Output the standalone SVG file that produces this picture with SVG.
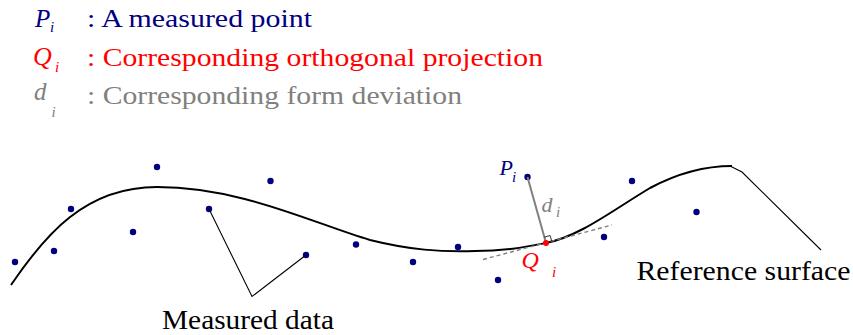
<svg xmlns="http://www.w3.org/2000/svg" width="853" height="335" viewBox="0 0 853 335" font-family="'Liberation Serif', 'Times New Roman', Times, serif">
<style>
text{font-family:'Liberation Serif','Times New Roman',Times,serif}
.sym{font-style:italic}
.blue{fill:#000080}
.red{fill:#ff0000}
.gray{fill:#808080}
.blk{fill:#000}
.dot{fill:#000080}
.curve{fill:none;stroke:#000;stroke-width:2}
.lead{fill:none;stroke:#000;stroke-width:1.1}
</style>
<rect width="853" height="335" fill="#fff"/>
<g id="legend">
  <g id="legend-p">
    <text class="sym blue" x="35" y="27" font-size="25">P</text>
    <text class="sym blue" x="50" y="32" font-size="15">i</text>
    <text class="blue" x="87" y="27" font-size="25.5" textLength="225" lengthAdjust="spacingAndGlyphs">: A measured point</text>
  </g>
  <g id="legend-q">
    <text class="sym red" x="33" y="65" font-size="26">Q</text>
    <text class="sym red" x="55" y="72" font-size="15">i</text>
    <text class="red" x="87" y="66" font-size="25.5" textLength="456" lengthAdjust="spacingAndGlyphs">: Corresponding orthogonal projection</text>
  </g>
  <g id="legend-d">
    <text class="sym gray" x="34" y="100" font-size="25">d</text>
    <text class="sym gray" x="51.5" y="117" font-size="15">i</text>
    <text class="gray" x="87" y="104" font-size="25.5" textLength="375" lengthAdjust="spacingAndGlyphs">: Corresponding form deviation</text>
  </g>
</g>
<g id="reference-surface">
  <path class="curve" d="M11,285 C45,235 85,187 157,187 C240,187 310,222 370,240 C410,250 440,252 475,251 C505,251 525,247 546,243 C580,236 610,212 650,188 C680,172 705,166 732,166"/>
</g>
<g id="measured-data">
  <circle class="dot" cx="15" cy="262" r="3.2"/>
  <circle class="dot" cx="54" cy="251" r="3.2"/>
  <circle class="dot" cx="71" cy="209" r="3.2"/>
  <circle class="dot" cx="133" cy="232" r="3.2"/>
  <circle class="dot" cx="157" cy="167" r="3.2"/>
  <circle class="dot" cx="209" cy="209" r="3.2"/>
  <circle class="dot" cx="270.5" cy="181" r="3.2"/>
  <circle class="dot" cx="306" cy="255" r="3.2"/>
  <circle class="dot" cx="356" cy="244.5" r="3.2"/>
  <circle class="dot" cx="413" cy="262" r="3.2"/>
  <circle class="dot" cx="458" cy="247" r="3.2"/>
  <circle class="dot" cx="498" cy="280" r="3.2"/>
  <circle class="dot" cx="604" cy="237" r="3.2"/>
  <circle class="dot" cx="632" cy="181" r="3.2"/>
  <circle class="dot" cx="696.5" cy="212" r="3.2"/>
</g>
<g id="point-p">
  <circle class="dot" cx="527.5" cy="177" r="3.2"/>
  <text class="sym blue" x="499.5" y="175" font-size="22">P</text>
  <text class="sym blue" x="512" y="182" font-size="15">i</text>
</g>
<g id="connectors">
  <line x1="483" y1="259.5" x2="612" y2="225" stroke="#808080" stroke-width="1.4" stroke-dasharray="4,3"/>
  <line x1="527.5" y1="177" x2="546" y2="243" stroke="#808080" stroke-width="2"/>
  <path d="M544.3,237.2 L550.1,235.5 L551.8,241.3" fill="none" stroke="#000" stroke-width="0.8"/>
  <path class="lead" d="M209,209 L252,296.5 L306,255"/>
  <path class="lead" d="M730,166 L742,172 L821,250"/>
</g>
<g id="point-q">
  <circle cx="546" cy="243" r="3" fill="#ff0000"/>
  <text class="sym red" x="521.5" y="268" font-size="24">Q</text>
  <text class="sym red" x="552" y="277" font-size="15">i</text>
</g>
<g id="label-d">
  <text class="sym gray" x="541.5" y="212" font-size="22">d</text>
  <text class="sym gray" x="556" y="216.5" font-size="15">i</text>
</g>
<g id="label-measured">
  <text class="blk" x="162" y="329" font-size="26.5" textLength="172" lengthAdjust="spacingAndGlyphs">Measured data</text>
</g>
<g id="label-reference">
  <text class="blk" x="636.5" y="280" font-size="27.5" textLength="214" lengthAdjust="spacingAndGlyphs">Reference surface</text>
</g>
</svg>
